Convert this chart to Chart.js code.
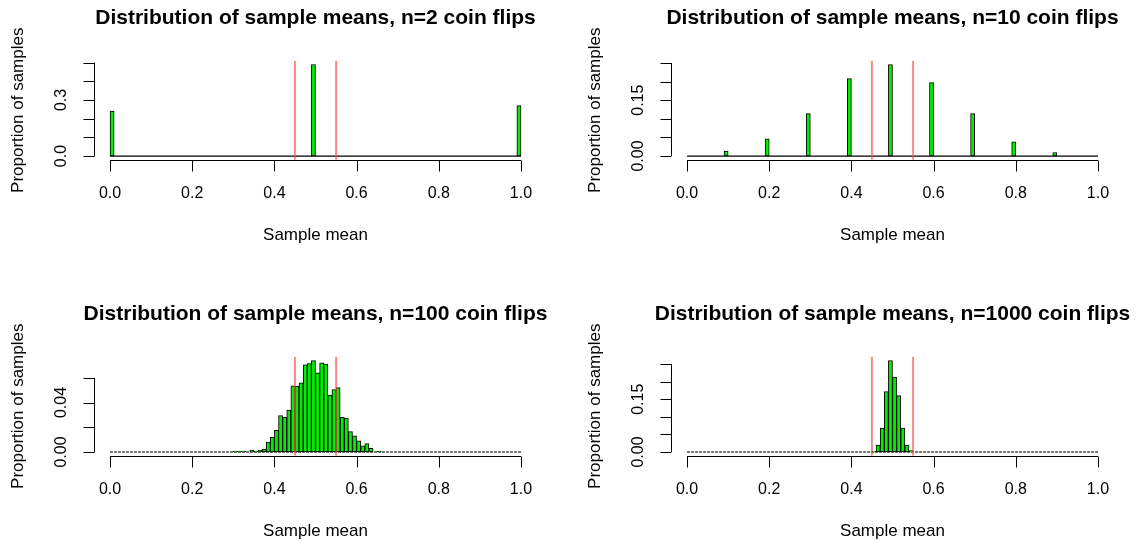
<!DOCTYPE html>
<html lang="en">
<head>
    <meta charset="UTF-8">
    <title>Distribution of sample means</title>
    <script src="https://cdn.jsdelivr.net/npm/chart.js"></script>
    <style>
        html, body { margin: 0; padding: 0; background: #fff; }
        body { width: 1139px; height: 543px; overflow: hidden; position: relative; }
        canvas { position: absolute; }
    </style>
</head>
<body>
    <canvas id="c2" width="577" height="296" style="left:0;top:0"></canvas>
    <canvas id="c10" width="577" height="296" style="left:577px;top:0"></canvas>
    <canvas id="c100" width="577" height="296" style="left:0;top:296px"></canvas>
    <canvas id="c1000" width="577" height="296" style="left:577px;top:296px"></canvas>

    <script>
        // Histogram bins are 0.01 wide; values are bin centres and proportion of samples
        const n2Mids = [0.005, 0.495, 0.995];
        const n2Props = [0.24, 0.49, 0.27];

        const n10Mids = [0.095, 0.195, 0.295, 0.395, 0.495, 0.595, 0.695, 0.795, 0.895];
        const n10Props = [0.013, 0.046, 0.114, 0.208, 0.246, 0.197, 0.114, 0.038, 0.009];

        const n100Mids = [0.305, 0.315, 0.325, 0.335, 0.345, 0.355, 0.365, 0.375, 0.385, 0.395,
                          0.405, 0.415, 0.425, 0.435, 0.445, 0.455, 0.465, 0.475, 0.485, 0.495,
                          0.505, 0.515, 0.525, 0.535, 0.545, 0.555, 0.565, 0.575, 0.585, 0.595,
                          0.605, 0.615, 0.625, 0.635, 0.645, 0.655];
        const n100Props = [0.0008, 0.0008, 0.0008, 0, 0.0016, 0.0008, 0.0016, 0.0024, 0.008, 0.012,
                           0.0175, 0.0295, 0.028, 0.034, 0.0535, 0.053, 0.056, 0.0705, 0.0715, 0.074,
                           0.064, 0.072, 0.071, 0.046, 0.0505, 0.052, 0.028, 0.0275, 0.0165, 0.013,
                           0.009, 0.005, 0.0068, 0.003, 0, 0.0008];

        const n1000Mids = [0.455, 0.465, 0.475, 0.485, 0.495, 0.505, 0.515, 0.525, 0.535, 0.545];
        const n1000Props = [0.002, 0.02, 0.068, 0.172, 0.26, 0.213, 0.16, 0.068, 0.02, 0.004];

        const cutoffs = [0.45, 0.55];
        const xTicks = [0, 0.2, 0.4, 0.6, 0.8, 1];
        const xTickLabels = ['0.0', '0.2', '0.4', '0.6', '0.8', '1.0'];

        const n2YTicks = [0, 0.1, 0.2, 0.3, 0.4, 0.5];
        const n2YLabels = ['0.0', '', '', '0.3', '', ''];
        const n10YTicks = [0, 0.05, 0.1, 0.15, 0.2, 0.25];
        const n10YLabels = ['0.00', '', '', '0.15', '', ''];
        const n100YTicks = [0, 0.02, 0.04, 0.06];
        const n100YLabels = ['0.00', '', '0.04', ''];
        const n1000YTicks = [0, 0.05, 0.1, 0.15, 0.2, 0.25];
        const n1000YLabels = ['0.00', '', '', '0.15', '', ''];

        const FONT = '"Liberation Sans", Arial, Helvetica, sans-serif';

        // every bin from 0 to 1, empty bins get 0
        function allBins(mids, props) {
            const bins = [];
            for (let i = 0; i < 100; i++) {
                const c = (i + 0.5) / 100;
                const k = mids.findIndex(m => Math.abs(m - c) < 1e-9);
                bins.push({ x: c, y: k >= 0 ? props[k] : 0 });
            }
            return bins;
        }

        // R-style axes and titles, placed from the chart's own scales
        const rAxes = {
            id: 'rAxes',
            afterDraw(chart, args, opts) {
                const { ctx, chartArea: a, scales: { x, y } } = chart;
                const tick = 11;
                ctx.save();
                ctx.strokeStyle = '#000';
                ctx.fillStyle = '#000';
                ctx.lineWidth = 1;

                // x axis
                const xb = Math.round(a.bottom) + 0.5;
                ctx.beginPath();
                ctx.moveTo(x.getPixelForValue(xTicks[0]), xb);
                ctx.lineTo(x.getPixelForValue(xTicks[xTicks.length - 1]), xb);
                xTicks.forEach(t => {
                    const px = Math.round(x.getPixelForValue(t)) + 0.5;
                    ctx.moveTo(px, xb);
                    ctx.lineTo(px, xb + tick);
                });
                ctx.stroke();
                ctx.font = '16px ' + FONT;
                ctx.textAlign = 'center';
                ctx.textBaseline = 'middle';
                xTicks.forEach((t, i) => ctx.fillText(xTickLabels[i], x.getPixelForValue(t), a.bottom + 34));

                // y axis
                const yl = Math.round(a.left) + 0.5;
                const yt = opts.yTicks;
                ctx.beginPath();
                ctx.moveTo(yl, y.getPixelForValue(yt[0]));
                ctx.lineTo(yl, y.getPixelForValue(yt[yt.length - 1]));
                yt.forEach(t => {
                    const py = Math.round(y.getPixelForValue(t)) + 0.5;
                    ctx.moveTo(yl, py);
                    ctx.lineTo(yl - tick, py);
                });
                ctx.stroke();
                yt.forEach((t, i) => {
                    if (!opts.yLabels[i]) return;
                    ctx.save();
                    ctx.translate(a.left - 32, y.getPixelForValue(t));
                    ctx.rotate(-Math.PI / 2);
                    ctx.fillText(opts.yLabels[i], 0, 0);
                    ctx.restore();
                });

                // axis titles
                ctx.font = '17px ' + FONT;
                ctx.fillText('Sample mean', (a.left + a.right) / 2, a.bottom + 76);
                ctx.save();
                ctx.translate(a.left - 75, (a.top + a.bottom) / 2);
                ctx.rotate(-Math.PI / 2);
                ctx.fillText('Proportion of samples', 0, 0);
                ctx.restore();

                // main title
                ctx.font = 'bold 21px ' + FONT;
                ctx.fillText(opts.title, (a.left + a.right) / 2, a.top - 43);
                ctx.restore();
            }
        };

        function makeChart(id, n, mids, props, yTicks, yLabels, baseColor, baseWidth, baseDash) {
            const ymax = Math.max(...props);
            const lo = -0.04 * ymax;
            const hi = 1.04 * ymax;

            const cutLines = cutoffs.map(c => ({
                type: 'line',
                data: [{ x: c, y: lo }, { x: c, y: hi }],
                borderColor: '#ff4d4d',
                borderWidth: 1.3,
                pointRadius: 0,
                order: 0
            }));

            new Chart(document.getElementById(id), {
                type: 'bar',
                data: {
                    datasets: [
                        ...cutLines,
                        {
                            type: 'bar',
                            data: allBins(mids, props),
                            backgroundColor: '#00ee00',
                            borderColor: '#000',
                            borderWidth: 1,
                            borderSkipped: false,
                            barPercentage: 1,
                            categoryPercentage: 1,
                            order: 1
                        },
                        {
                            type: 'line',
                            data: [{ x: 0, y: 0 }, { x: 1, y: 0 }],
                            borderColor: baseColor,
                            borderWidth: baseWidth,
                            borderDash: baseDash,
                            pointRadius: 0,
                            order: 2
                        }
                    ]
                },
                options: {
                    responsive: false,
                    animation: false,
                    events: [],
                    layout: { padding: { left: 93.6, right: 39.6, top: 60.8, bottom: 136.3 } },
                    scales: {
                        x: { type: 'linear', min: -0.04, max: 1.04, offset: false, display: false },
                        y: { type: 'linear', min: lo, max: hi, display: false }
                    },
                    plugins: {
                        legend: { display: false },
                        tooltip: { enabled: false },
                        rAxes: {
                            title: 'Distribution of sample means, n=' + n + ' coin flips',
                            yTicks: yTicks,
                            yLabels: yLabels
                        }
                    }
                },
                plugins: [rAxes]
            });
        }

        makeChart('c2', 2, n2Mids, n2Props, n2YTicks, n2YLabels, '#000', 1.2, []);
        makeChart('c10', 10, n10Mids, n10Props, n10YTicks, n10YLabels, '#000', 1.2, []);
        makeChart('c100', 100, n100Mids, n100Props, n100YTicks, n100YLabels, '#777', 2, [3, 1]);
        makeChart('c1000', 1000, n1000Mids, n1000Props, n1000YTicks, n1000YLabels, '#777', 2, [3, 1]);
    </script>
</body>
</html>
